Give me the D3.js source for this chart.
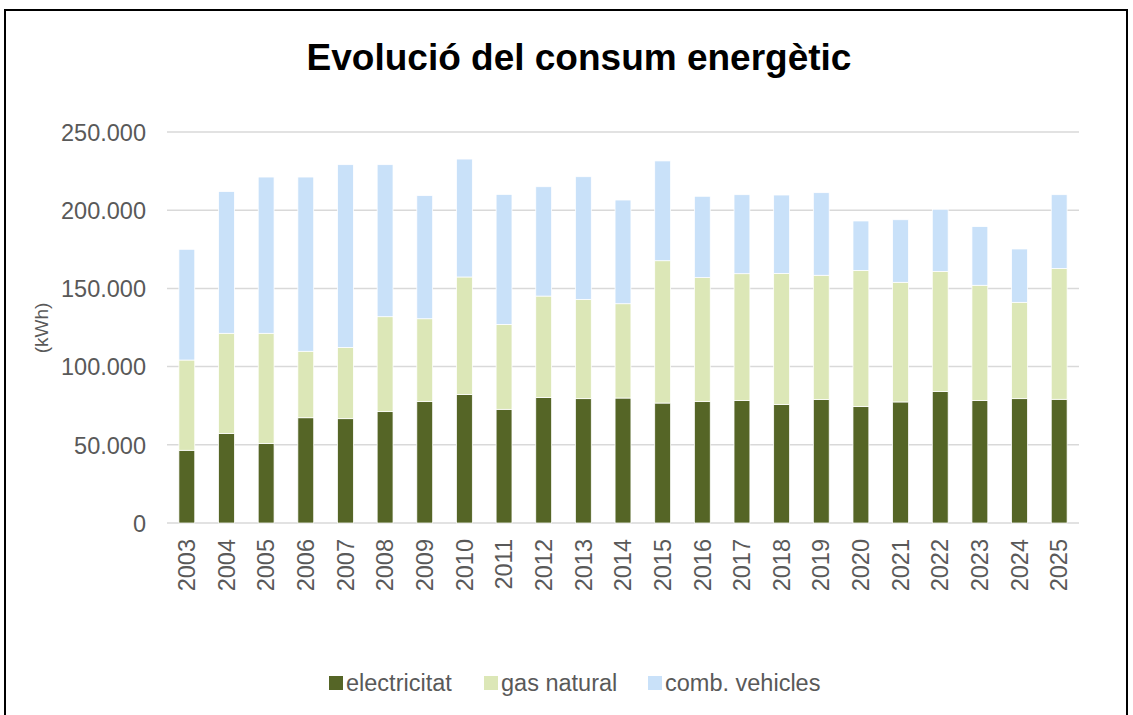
<!DOCTYPE html>
<html>
<head>
<meta charset="utf-8">
<script src="https://cdn.jsdelivr.net/npm/d3@7"></script>
<style>
body { margin: 0; background: #fff; }
svg { font-family: "Liberation Sans", Arial, sans-serif; }
</style>
</head>
<body>
<div></div>
<script>
var width = 1133;
var height = 715;

var years = ["2003", "2004", "2005", "2006", "2007", "2008", "2009", "2010", "2011", "2012", "2013", "2014",
    "2015", "2016", "2017", "2018", "2019", "2020", "2021", "2022", "2023", "2024", "2025"];
var electricitat = [46500, 57300, 50900, 67300, 66700, 71200, 77600, 82100, 72700, 80300, 79500, 79900,
    76700, 77600, 78400, 75700, 78900, 74400, 77400, 84000, 78400, 79500, 79100];
var gasNatural = [57700, 64000, 70400, 42500, 45600, 60700, 53000, 75200, 54300, 64800, 63500, 60300,
    91000, 79300, 81000, 83900, 79500, 87100, 76500, 76900, 73600, 61600, 83700];
var combVehicles = [70800, 90600, 99900, 111400, 116800, 97200, 78700, 75400, 83100, 69900, 78400, 66300,
    63800, 52000, 50500, 50100, 52800, 31600, 40000, 39700, 37500, 34100, 47100];
var seriesNames = ["electricitat", "gas natural", "comb. vehicles"];
var yTicks = [0, 50000, 100000, 150000, 200000, 250000];

var colors = ["#556526", "#dce7b7", "#c9e1f9"];

var svg = d3.select("div")
    .append("svg")
    .attr("width", width)
    .attr("height", height);

// marc
svg.append("rect")
    .attr("x", 5).attr("y", 10)
    .attr("width", 1122).attr("height", 720)
    .attr("fill", "#fff")
    .attr("stroke", "#000")
    .attr("stroke-width", 2);

svg.append("text")
    .attr("x", 579).attr("y", 70)
    .attr("text-anchor", "middle")
    .style("font-size", "37px")
    .style("font-weight", "bold")
    .attr("fill", "#000")
    .text("Evolució del consum energètic");

var x = d3.scaleBand()
    .domain(years)
    .range([167, 1079])
    .paddingInner(0.6)
    .paddingOuter(0.3);

var y = d3.scaleLinear()
    .domain([0, 250000])
    .range([523, 132]);

// graella
svg.append("g")
    .selectAll("line")
    .data(yTicks)
    .join("line")
    .attr("x1", 167).attr("x2", 1079)
    .attr("y1", function (d) { return y(d); })
    .attr("y2", function (d) { return y(d); })
    .attr("stroke", "#d9d9d9")
    .attr("stroke-width", 1.5);

var yAxis = svg.append("g")
    .attr("transform", "translate(146,0)")
    .call(d3.axisLeft(y).tickValues(yTicks).tickSize(0)
        .tickFormat(function (d) { return d3.format(",")(d).replace(/,/g, "."); }));
yAxis.select(".domain").remove();
yAxis.selectAll("text")
    .attr("x", 0)
    .attr("dy", "0.35em")
    .attr("fill", "#595959")
    .style("font-size", "23.5px")
    .style("font-family", "Liberation Sans, Arial, sans-serif");

svg.append("text")
    .attr("transform", "translate(41,328) rotate(-90)")
    .attr("text-anchor", "middle")
    .attr("dy", "0.35em")
    .attr("fill", "#595959")
    .style("font-size", "19px")
    .text("(kWh)");

var table = years.map(function (yr, i) {
    return { year: yr, e: electricitat[i], g: gasNatural[i], c: combVehicles[i] };
});
var stack = d3.stack().keys(["e", "g", "c"])(table);

svg.append("g")
    .selectAll("g")
    .data(stack)
    .join("g")
    .attr("fill", function (d, i) { return colors[i]; })
    .selectAll("rect")
    .data(function (d) { return d; })
    .join("rect")
    .attr("x", function (d) { return x(d.data.year); })
    .attr("width", x.bandwidth())
    .attr("y", function (d) { return y(d[1]); })
    .attr("height", function (d) { return y(d[0]) - y(d[1]); })
    .attr("stroke", "#fff")
    .attr("stroke-width", 0.75);

var xAxis = svg.append("g")
    .attr("transform", "translate(0,523)")
    .call(d3.axisBottom(x).tickSize(0));
xAxis.select(".domain").remove();
xAxis.selectAll("text")
    .attr("transform", "rotate(-90)")
    .attr("x", -16)
    .attr("y", 0)
    .attr("dy", "0.35em")
    .attr("text-anchor", "end")
    .attr("fill", "#595959")
    .style("font-size", "23.5px")
    .style("font-family", "Liberation Sans, Arial, sans-serif");

// llegenda
var legendX = [329, 484, 648];
var legend = svg.append("g")
    .selectAll("g")
    .data(seriesNames)
    .join("g")
    .attr("transform", function (d, i) { return "translate(" + legendX[i] + ",683)"; });
legend.append("rect")
    .attr("x", 0).attr("y", -7)
    .attr("width", 14).attr("height", 14)
    .attr("fill", function (d, i) { return colors[i]; });
legend.append("text")
    .attr("x", 17)
    .attr("dy", "0.35em")
    .attr("fill", "#595959")
    .style("font-size", "23.5px")
    .text(function (d) { return d; });
</script>
</body>
</html>
